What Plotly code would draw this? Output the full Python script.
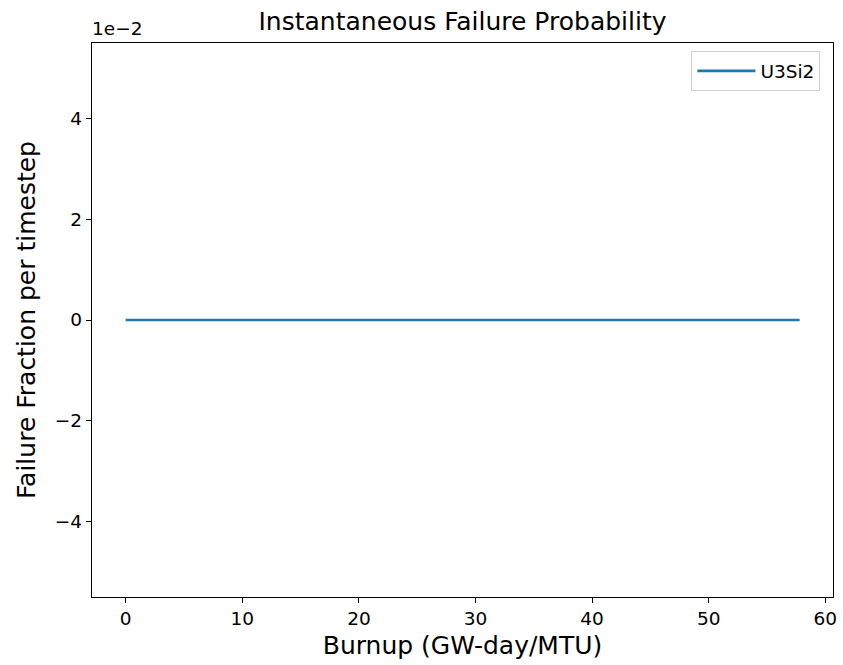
import plotly.graph_objects as go

burnup = [0.0, 5.0, 10.0, 15.0, 20.0, 25.0, 30.0, 35.0, 40.0, 45.0, 50.0, 55.0, 57.8]
failure_fraction = [0.0, 0.0, 0.0, 0.0, 0.0, 0.0, 0.0, 0.0, 0.0, 0.0, 0.0, 0.0, 0.0]
y_tick_vals = [-0.04, -0.02, 0.0, 0.02, 0.04]
y_tick_text = ["\u22124", "\u22122", "0", "2", "4"]
x_tick_vals = [0, 10, 20, 30, 40, 50, 60]

FONT = "DejaVu Sans"

fig = go.Figure()
fig.add_trace(go.Scatter(
    x=burnup, y=failure_fraction, mode="lines", name="U3Si2",
    line=dict(color="#1f77b4", width=2.6),
))

fig.update_layout(
    width=843, height=665,
    margin=dict(l=92, r=6, t=43, b=68),
    paper_bgcolor="white", plot_bgcolor="white",
    font=dict(family=FONT, color="#000000", size=18),
    title=dict(text="Instantaneous Failure Probability", x=0.5, xref="paper",
               xanchor="center", y=0.968, yanchor="middle",
               font=dict(size=25, family=FONT, color="#000")),
    showlegend=True,
    legend=dict(x=0.983, y=0.985, xanchor="right", yanchor="top",
                bgcolor="rgba(255,255,255,0.8)", bordercolor="#d0d0d0", borderwidth=1,
                itemwidth=58,
                font=dict(size=18.5, family=FONT)),
)

fig.update_xaxes(
    range=[-2.89, 60.66], tickvals=x_tick_vals,
    showgrid=False, zeroline=False,
    showline=True, linecolor="black", linewidth=1.3, mirror=True,
    ticks="outside", ticklen=5, tickwidth=1.3, tickcolor="black",
    tickfont=dict(size=18.5, family=FONT),
    title=dict(text="Burnup (GW-day/MTU)", font=dict(size=25, family=FONT), standoff=8),
)
fig.update_yaxes(
    range=[-0.055, 0.055], tickvals=y_tick_vals, ticktext=y_tick_text,
    showgrid=False, zeroline=False,
    showline=True, linecolor="black", linewidth=1.3, mirror=True,
    ticks="outside", ticklen=5, tickwidth=1.3, tickcolor="black",
    tickfont=dict(size=18.5, family=FONT),
    title=dict(text="Failure Fraction per timestep", font=dict(size=25, family=FONT), standoff=12),
)

fig.add_annotation(text="1e\u22122", xref="paper", yref="paper", x=0, y=1,
                   xanchor="left", yanchor="bottom", showarrow=False,
                   font=dict(size=18.5, family=FONT), yshift=2, xshift=-2)

fig.write_html("out.html")
